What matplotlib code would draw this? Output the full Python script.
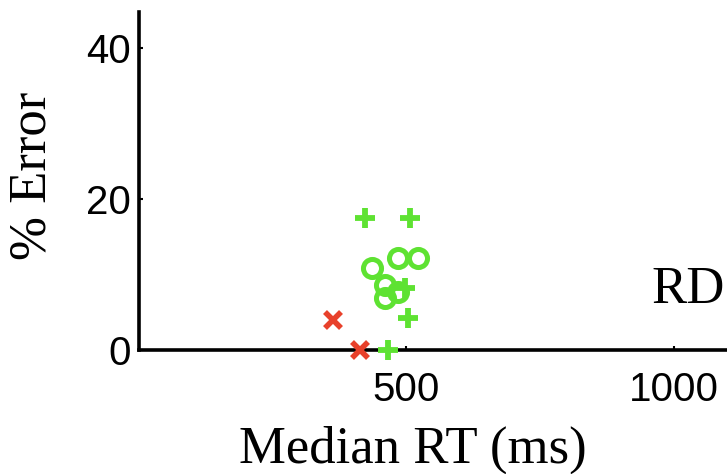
import matplotlib.pyplot as plt

# median RT (ms) and % error per subject, grouped by marker type
plus_rt = [423, 507, 498, 504, 466]
plus_err = [17.5, 17.5, 8.2, 4.2, 0.0]

circle_rt = [436, 485, 522, 461, 461, 485]
circle_err = [10.9, 12.2, 12.2, 8.6, 6.9, 7.7]

cross_rt = [363, 414]
cross_err = [4.0, 0.0]

green = '#5ee232'
red = '#e8412b'

fig = plt.figure(figsize=(7.27, 4.74), dpi=100)
ax = fig.add_axes([0.191, 0.2616, 0.809, 0.713])

ax.plot(circle_rt, circle_err, 'o', ms=13, mfc='none', mec=green, mew=3.6, clip_on=False)
ax.plot(plus_rt, plus_err, '+', ms=15, mec=green, mew=4.2, clip_on=False, zorder=4)
ax.plot(cross_rt, cross_err, 'x', ms=11, mec=red, mew=4.0, clip_on=False, zorder=4)

ax.set_xlim(0, 1100)
ax.set_ylim(0, 44.8)
ax.set_xticks([500, 1000])
ax.set_yticks([0, 20, 40])

for s in ['top', 'right']:
    ax.spines[s].set_visible(False)
for s in ['left', 'bottom']:
    ax.spines[s].set_linewidth(2.6)

ax.tick_params(direction='in', length=3, width=1.5, labelsize=29)
ax.tick_params(axis='x', pad=15)
ax.tick_params(axis='y', pad=6)
for lab in ax.get_xticklabels() + ax.get_yticklabels():
    lab.set_family('Liberation Sans')

fig.text(413 / 727, 1 - 463 / 474, 'Median RT (ms)', family='Liberation Serif',
         fontsize=38, ha='center', va='baseline')
fig.text(32 / 727, 1 - 176 / 474, '% Error', family='Liberation Serif',
         fontsize=38, rotation=90, ha='center', va='center')
ax.text(0.872, 0.139, 'RD', transform=ax.transAxes, family='Liberation Serif',
        fontsize=38, ha='left', va='baseline')

fig.savefig('out.png', dpi=100)
